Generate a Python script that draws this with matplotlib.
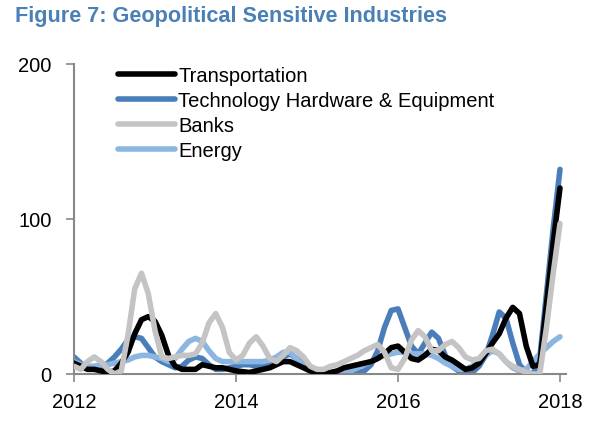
#!/usr/bin/env python3

# Figure 7: Geopolitical Sensitive Industries
import matplotlib
matplotlib.use('Agg')
import matplotlib.pyplot as plt
import numpy as np

# Monthly readings, Jan 2012 .. Jan 2018
START_YEAR = 2012
transportation = [7, 5, 3, 3, 2, 1, 2, 7, 14, 26, 35, 37,
                  34, 25, 12, 5, 3, 3, 3, 6, 5, 4, 4, 3,
                  2, 1.5, 1, 2, 3, 4, 6, 8, 8, 6, 4, 2,
                  1, 0, 1, 2, 4, 5, 6, 7, 8, 10, 13, 17,
                  18, 14, 10, 9, 12, 16, 15, 11, 9, 6, 3, 4,
                  7, 13, 20, 26, 36, 43, 39, 18, 5, 6, 45, 85,
                  120]
tech_hardware = [11, 7, 4, 3, 4, 7, 11, 16, 22, 24, 23, 17,
                 11, 8, 6, 4, 5, 9, 11, 10, 6, 3, 3, 4,
                 5, 6, 6, 5, 5, 6, 8, 11, 13, 10, 6, 3,
                 1, 0, 0, 0, 1, 1, 1, 2, 6, 15, 30, 41,
                 42, 30, 18, 13, 20, 27, 23, 12, 5, 2, 0, 1,
                 5, 12, 25, 40, 36, 20, 6, 1, 0, 10, 52, 94,
                 132]
banks = [5, 3, 8, 11, 8, 3, 0, 2, 25, 55, 65, 52,
         28, 11, 10, 11, 12, 12, 13, 20, 33, 39, 30, 14,
         9, 12, 20, 24, 18, 10, 8, 12, 17, 15, 11, 5,
         3, 3, 5, 6, 8, 10, 12, 15, 17, 19, 14, 4,
         3, 10, 22, 28, 24, 15, 15, 19, 21, 17, 11, 9,
         10, 15, 16, 13, 8, 5, 3, 1, 0, 0, 30, 65,
         97]
energy = [8, 6, 5, 5, 6, 6, 7, 8, 9, 11, 12, 12,
          11, 10, 8, 10, 16, 21, 23, 21, 15, 10, 8, 8,
          8, 8, 8, 8, 8, 9, 11, 14, 14, 10, 5, 2,
          1, 0, 0, 1, 1, 2, 4, 6, 8, 10, 12, 13,
          14, 14, 13, 13, 13, 12, 10, 7, 5, 3, 3, 5,
          8, 12, 15, 13, 8, 4, 2, 3, 8, 13, 17, 21,
          24]

labels = ['Transportation', 'Technology Hardware & Equipment', 'Banks', 'Energy']
colours = ['#000000', '#4a7ebb', '#c4c4c4', '#8cb6e2']
x_ticks = [2012, 2014, 2016, 2018]
y_ticks = [0, 100, 200]


def plot():
    plt.rcParams['font.family'] = ['Liberation Sans', 'DejaVu Sans']
    size = 14.5

    fig = plt.figure(figsize=(6.05, 4.27), dpi=100)
    ax = fig.add_axes([0.1223, 0.1218, 0.814, 0.726])

    series = [transportation, tech_hardware, banks, energy]
    months = np.arange(len(transportation))
    dates = START_YEAR + months / 12.0

    order = [3, 1, 4, 2]
    for values, label, colour, z in zip(series, labels, colours, order):
        ax.plot(dates, values, color=colour, lw=4, label=label,
                solid_capstyle='round', solid_joinstyle='round', zorder=z)

    ax.set_xlim(2012, 2018.08)
    ax.set_ylim(0, 200)
    ax.set_xticks(x_ticks)
    ax.set_yticks(y_ticks)
    ax.tick_params(direction='out', length=6, width=1.2, color='#888888',
                   labelsize=size)
    ax.tick_params(axis='y', pad=10)
    ax.tick_params(axis='x', pad=7)
    for side in ['top', 'right']:
        ax.spines[side].set_visible(False)
    for side in ['left', 'bottom']:
        ax.spines[side].set_color('#888888')
        ax.spines[side].set_linewidth(1.5)

    ax.legend(loc='upper left', bbox_to_anchor=(0.195, 0.842),
              bbox_transform=fig.transFigure, frameon=False,
              fontsize=size, handlelength=2.85, handletextpad=0.15,
              labelspacing=0.29, borderaxespad=0, borderpad=0)

    fig.text(0.025, 0.985, 'Figure 7: Geopolitical Sensitive Industries',
             ha='left', va='top', fontsize=15.6,
             fontweight='bold', color='#4a80b4')

    plt.savefig('out.png', dpi=100)


if __name__ == '__main__':
    plot()
